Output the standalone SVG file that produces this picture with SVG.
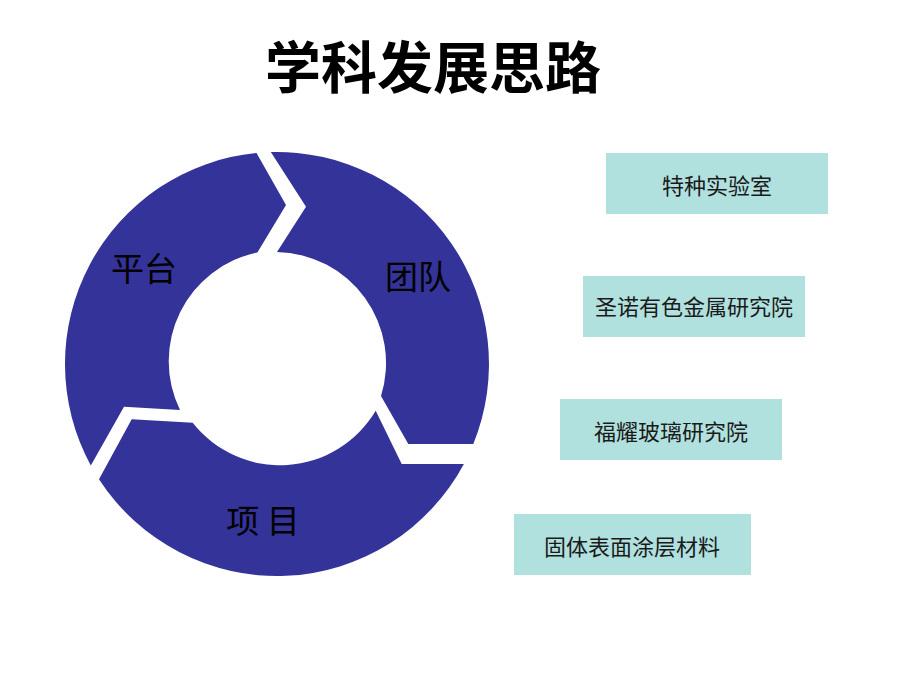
<svg xmlns="http://www.w3.org/2000/svg" width="920" height="690" viewBox="0 0 920 690">
  <style>
    .seg { fill: #333399; }
    .lbl { font-family: "Noto Sans CJK SC", "Noto Sans", sans-serif; font-size: 33px; fill: #000; text-anchor: middle; }
    .box { fill: #b1e1df; }
    .btxt { font-family: "Noto Sans CJK SC", "Noto Sans", sans-serif; font-size: 22px; fill: #1a1a1a; text-anchor: middle; }
    .title { font-family: "Noto Sans CJK SC", "Noto Sans", sans-serif; font-size: 56px; font-weight: bold; fill: #000; text-anchor: middle; }
  </style>
  <rect width="920" height="690" fill="#ffffff"/>
  <text id="title" class="title" x="433" y="88">学科发展思路</text>

  <g id="ring">
    <g id="seg-pingtai">
      <path class="seg" d="M 90.8 465.4 A 212 212 0 0 1 256.5 153 L 286 205 L 257.4 252.5 A 111 111 0 0 0 180 410 L 124 406.7 Z"/>
      <text class="lbl" x="144" y="281">平台</text>
    </g>
    <g id="seg-tuandui">
      <path class="seg" d="M 270.8 152.1 A 212 212 0 0 1 473.3 444 L 408.3 444 L 381 396 A 111 111 0 0 0 277 252 L 306 206.7 Z"/>
      <text class="lbl" x="418" y="289">团队</text>
    </g>
    <g id="seg-xiangmu">
      <path class="seg" d="M 463.9 464 A 212 212 0 0 1 99 479.2 L 131.7 419.3 L 192.7 422.7 A 111 111 0 0 0 375.7 410.7 L 401.7 464 Z"/>
      <text class="lbl" x="263" y="533">项 目</text>
    </g>
  </g>

  <g id="box1">
    <rect class="box" x="606" y="153" width="222" height="61"/>
    <text class="btxt" x="717" y="194">特种实验室</text>
  </g>
  <g id="box2">
    <rect class="box" x="583" y="276" width="222" height="61"/>
    <text class="btxt" x="694" y="315">圣诺有色金属研究院</text>
  </g>
  <g id="box3">
    <rect class="box" x="560" y="399" width="222" height="61"/>
    <text class="btxt" x="671" y="440">福耀玻璃研究院</text>
  </g>
  <g id="box4">
    <rect class="box" x="514" y="514" width="237" height="61"/>
    <text class="btxt" x="632" y="555">固体表面涂层材料</text>
  </g>
  <g id="connectors"></g>
</svg>
